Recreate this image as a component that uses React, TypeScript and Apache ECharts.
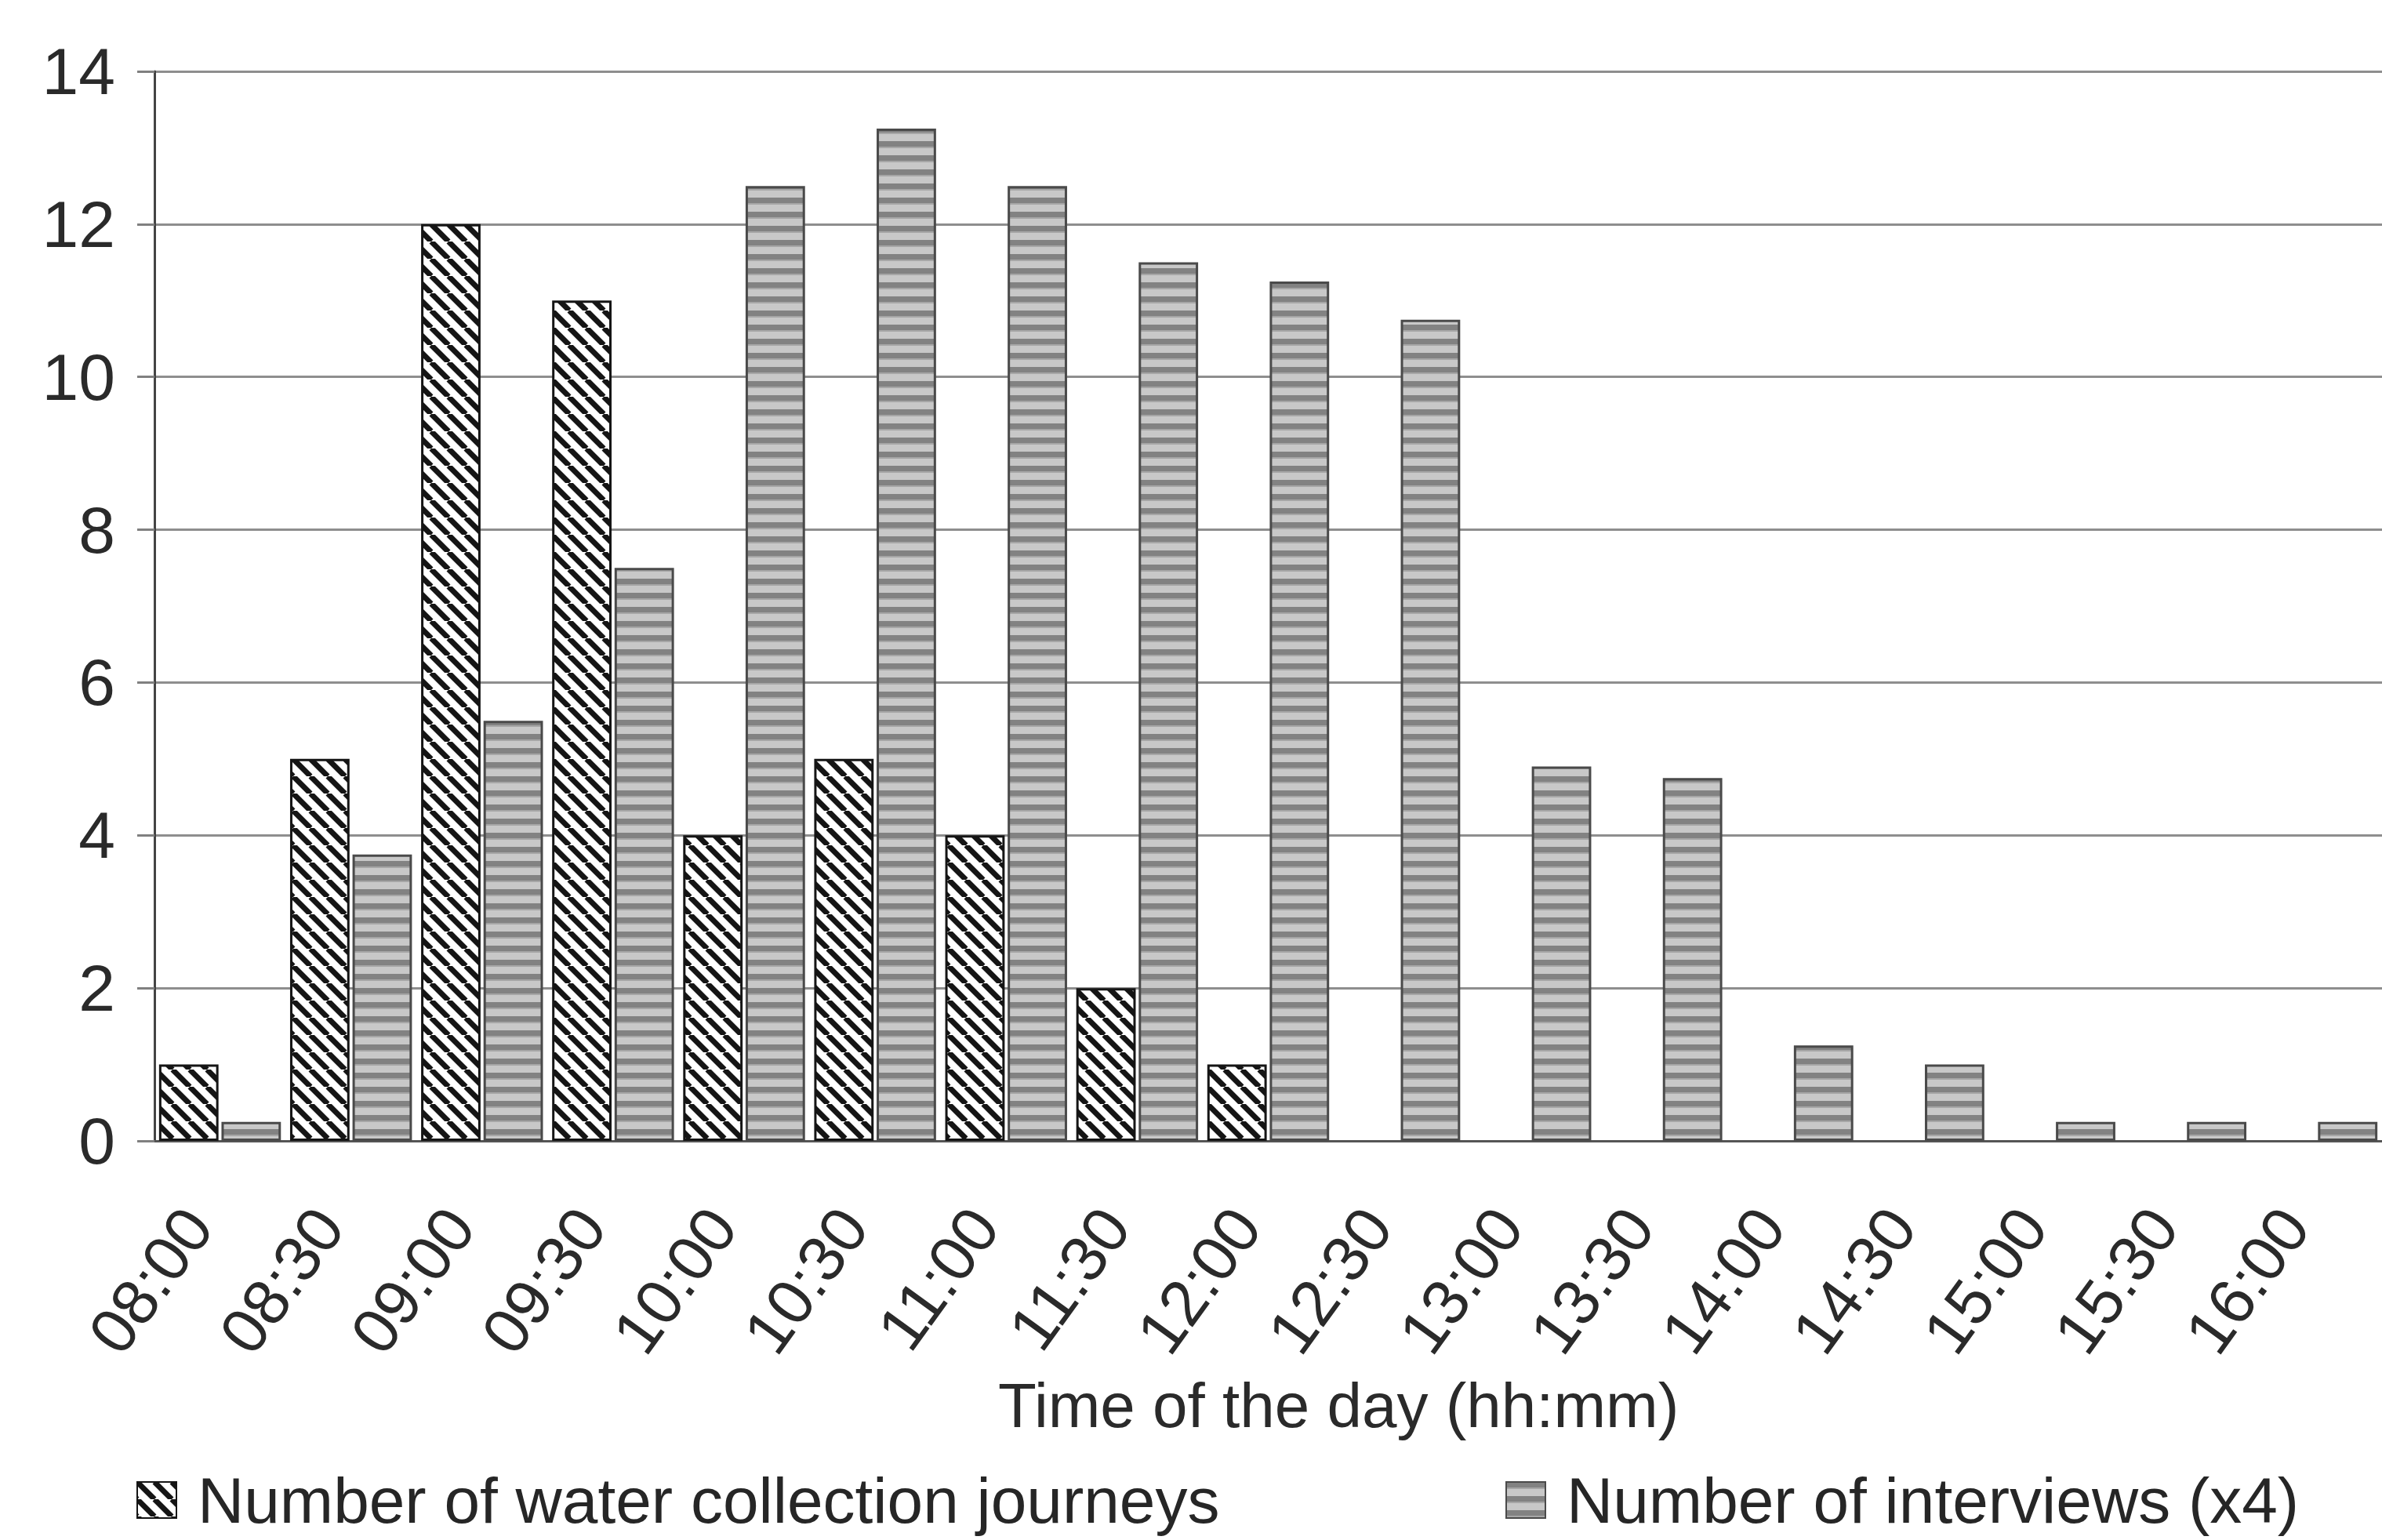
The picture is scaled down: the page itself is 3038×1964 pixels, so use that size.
import React, { useEffect, useRef } from "react";
import * as echarts from "echarts";

const categories = [
  "08:00", "08:30", "09:00", "09:30", "10:00", "10:30", "11:00", "11:30", "12:00",
  "12:30", "13:00", "13:30", "14:00", "14:30", "15:00", "15:30", "16:00",
];
const journeys = [1, 5, 12, 11, 4, 5, 4, 2, 1, 0, 0, 0, 0, 0, 0, 0, 0];
const interviews = [0.25, 3.75, 5.5, 7.5, 12.5, 13.25, 12.5, 11.5, 11.25, 10.75, 4.9, 4.75, 1.25, 1, 0.25, 0.25, 0.25];
const seriesNames = ["Number of water collection journeys", "Number of interviews (x4)"];
const xTitle = "Time of the day (hh:mm)";

const FONT = "'Liberation Sans', Arial, Helvetica, sans-serif";

function hatchCanvas() {
  const s = 22;
  const c = document.createElement("canvas");
  c.width = s;
  c.height = s;
  const g = c.getContext("2d")!;
  g.fillStyle = "#ffffff";
  g.fillRect(0, 0, s, s);
  g.strokeStyle = "#151515";
  g.lineWidth = 7;
  g.beginPath();
  for (const o of [-s, 0, s]) {
    g.moveTo(o, 0);
    g.lineTo(o + s, s);
  }
  g.stroke();
  return c;
}

function stripeCanvas() {
  const w = 8, h = 18;
  const c = document.createElement("canvas");
  c.width = w;
  c.height = h;
  const g = c.getContext("2d")!;
  g.fillStyle = "#c8c8c8";
  g.fillRect(0, 0, w, h);
  g.fillStyle = "#828282";
  g.fillRect(0, 0, w, 7);
  g.fillStyle = "#a6a6a6";
  g.fillRect(0, 7, w, 2);
  return c;
}

export default function App() {
  const ref = useRef<HTMLDivElement>(null);
  useEffect(() => {
    if (!ref.current) return;
    const chart = echarts.init(ref.current, undefined, { renderer: "svg" });
    const hatch = { image: hatchCanvas(), repeat: "repeat", imageWidth: 22, imageHeight: 22 };
    const stripe = { image: stripeCanvas(), repeat: "repeat", imageWidth: 8, imageHeight: 18 };
    const legendText = {
      fontSize: 82,
      color: "#262626",
      fontFamily: FONT,
      padding: [0, 0, 0, 22],
    };
    chart.setOption({
      animation: false,
      backgroundColor: "#ffffff",
      grid: { left: 197, right: -35, top: 91, bottom: 509, containLabel: false },
      legend: [
        {
          data: [seriesNames[0]],
          left: 174,
          top: 1872,
          padding: 0,
          icon: "rect",
          itemWidth: 50,
          itemHeight: 46,
          textStyle: legendText,
        },
        {
          data: [seriesNames[1]],
          left: 1920,
          top: 1872,
          padding: 0,
          icon: "rect",
          itemWidth: 50,
          itemHeight: 46,
          textStyle: { ...legendText, padding: [0, 0, 0, 22] },
        },
      ],
      xAxis: {
        type: "category",
        data: categories,
        axisLine: { show: true, lineStyle: { color: "#555555", width: 3 } },
        axisTick: { show: false },
        axisLabel: {
          interval: 0,
          rotate: 54,
          margin: 56,
          padding: [0, 48, 0, 0],
          fontSize: 82,
          color: "#2a2a2a",
          fontFamily: FONT,
        },
        splitLine: { show: false },
      },
      yAxis: {
        type: "value",
        min: 0,
        max: 14,
        interval: 2,
        axisLine: { show: true, lineStyle: { color: "#444444", width: 3 } },
        axisTick: { show: true, length: 22, lineStyle: { color: "#808080", width: 3 } },
        splitLine: { show: true, lineStyle: { color: "#8e8e8e", width: 3 } },
        axisLabel: { margin: 50, fontSize: 84, color: "#2a2a2a", fontFamily: FONT },
      },
      series: [
        {
          name: seriesNames[0],
          type: "bar",
          data: journeys.map((v) => (v === 0 ? null : v)),
          barGap: "5%",
          barCategoryGap: "7%",
          itemStyle: { color: hatch, borderColor: "#151515", borderWidth: 3 },
        },
        {
          name: seriesNames[1],
          type: "bar",
          data: interviews,
          barGap: "5%",
          barCategoryGap: "7%",
          itemStyle: { color: stripe, borderColor: "#4a4a4a", borderWidth: 3 },
        },
      ],
      graphic: [
        {
          type: "text",
          left: 1699 - 426,
          top: 1798 - 46,
          style: {
            text: xTitle,
            fontSize: 80,
            fill: "#2a2a2a",
            fontFamily: FONT,
          },
        },
      ],
    });
    return () => chart.dispose();
  }, []);
  return (
    <div
      ref={ref}
      style={{ position: "fixed", left: 0, top: 0, width: 3038, height: 1964, background: "#fff" }}
    />
  );
}
